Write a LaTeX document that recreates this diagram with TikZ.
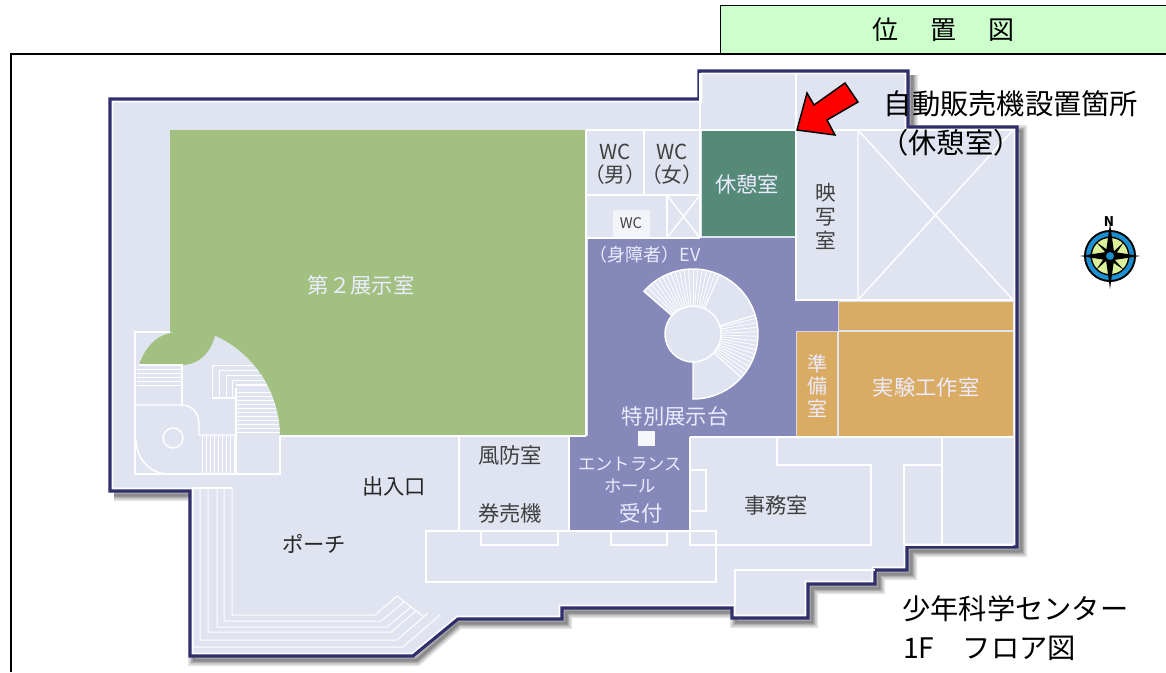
\documentclass[tikz,border=0pt]{standalone}
\usepackage{fontspec}
\setmainfont{Noto Sans CJK JP}
\definecolor{floorc}{HTML}{E0E4F1}
\definecolor{wallc}{HTML}{2F2F6E}
\definecolor{greenc}{HTML}{A2C180}
\definecolor{tealc}{HTML}{548A77}
\definecolor{purplec}{HTML}{8688B9}
\definecolor{orangec}{HTML}{DAAB63}
\definecolor{headc}{HTML}{CCFFCC}
\definecolor{ringc}{HTML}{1B8FD0}
\definecolor{dialc}{HTML}{DCF29A}
\newcommand{\outl}{(110,99) -- (699,99) -- (699,71) -- (908,71) -- (908,127) -- (1017,127) -- (1017,547) -- (907,547) -- (907,570) -- (875,570) -- (875,584) -- (808,584) -- (808,618) -- (732,618) -- (732,608) -- (562,608) -- (562,619) -- (458,619) -- (413,656) -- (190,656) -- (190,491) -- (110,491) -- cycle}
\begin{document}
\begin{tikzpicture}[x=.75pt, y=-.75pt, wl/.style = {draw=white, line width=1.1pt}, thin wl/.style = {draw=white, line width=.75pt},
  lab/.style = {font=\fontsize{16}{18}\selectfont, text=black!75, inner sep=0pt, align=center},
  labw/.style = {lab, text=white!92!blue},
  note/.style = {font=\fontsize{21.2}{25}\selectfont, text=black, inner sep=0pt}]
\useasboundingbox (0,0) rectangle (1166,672);
\fill[white] (0,0) rectangle (1166,672);
% shadow and floor
\foreach \wd/\gr in {9/10,6.75/20,4.5/32,2.25/45} {
  \draw[black!\gr, line width=\wd pt] (912,75) -- (912,131) -- (1021,131) -- (1021,551) -- (911,551) -- (911,574) -- (879,574) -- (879,588) -- (812,588) -- (812,622) -- (736,622) -- (736,612) -- (566,612) -- (566,623) -- (459,623) -- (417,660) -- (194,660) -- (194,495) -- (114,495);
}
\fill[floorc] \outl;
\begin{scope}
\clip \outl;
\draw[white, line width=5pt] \outl;
\end{scope}
\draw[wallc, line width=2.4pt, line join=miter] \outl;

% rooms
\fill[greenc] (170,130) -- (586,130) -- (586,436) -- (280,436) -- plot[domain=0:65.8, samples=30] ({170+110*cos(\x)},{436-110*sin(\x)}) .. controls (210,355) and (197,365) .. (182,365) -- (139,365) .. controls (146,345) and (158,333) .. (178,332) -- (170,332) -- cycle;
\fill[tealc] (702,131) rectangle (795,236);
\fill[purplec] (588,238) -- (796,238) -- (796,300) -- (838,300) -- (838,331) -- (796,331) -- (796,436) -- (690,436) -- (690,530) -- (570,530) -- (570,436) -- (588,436) -- cycle;
\fill[orangec] (797,332) rectangle (837,436);
\fill[orangec] (839,332) rectangle (1013,436);
\fill[orangec] (839,302) rectangle (1013,330);

% upper partitions
\draw[wl] (586,130) -- (1013,130);
\draw[wl] (700,73) -- (700,238) (796,73) -- (796,300) -- (1013,300);
\draw[wl] (586,130) -- (586,436) (644,130) -- (644,195) (586,195) -- (700,195) (586,238) -- (700,238) (667,195) -- (667,238);
\draw[wl] (667,195) -- (700,238) (700,195) -- (667,238);
\draw[wl] (858,130) -- (858,300) (858,130) -- (1013,300) (1013,130) -- (858,300);
\fill[white!60!floorc] (613,210) rectangle (650,237);

% lower partitions
\draw[wl] (280,436) -- (586,436) (690,437) -- (1013,437) (459,437) -- (459,531) (569,437) -- (569,531);
\draw[wl] (690,437) -- (690,545) -- (871,545) -- (871,465) -- (777,465) -- (777,437);
\draw[wl] (691,470) -- (706,470) -- (706,511) -- (691,511);
\draw[wl] (942,437) -- (942,545) (904,545) -- (904,465) -- (942,465) (904,545) -- (1013,545);
\draw[wl] (426,531) rectangle (716,582);
\draw[wl] (481,531) -- (481,545) -- (558,545) -- (558,531) (611,531) -- (611,545) -- (667,545) -- (667,531);
\draw[wl] (875,570) -- (735,570) -- (735,608);
\fill[white!70!floorc] (638,431) rectangle (655,446);

% left stair
\draw[wl] (170,332) -- (135,332) -- (135,474) -- (280,474) -- (280,436);
\draw[wl] (139,365) -- (182,365) -- (182,405);
\draw[wl] (135,405) -- (182,405) .. controls (192,405) and (199,413) .. (199,424) -- (199,435) -- (235,435);
\draw[wl] (136,440) .. controls (136,458) and (150,474) .. (168,474);
\draw[wl] (173,438) circle (10);
\foreach \y in {369,373,...,385} \draw[thin wl] (137,\y) -- (181,\y);
\foreach \x in {202,206,...,234} \draw[thin wl] (\x,436) -- (\x,474);
\foreach \y in {392,396,...,432} \draw[thin wl] (236,\y) -- ({170+sqrt(12100-(436-\y)^2)},\y);
\draw[wl] (236,388) -- (236,474);
\foreach \x/\y in {212/365,219/370,226/375,232/380} \draw[thin wl] (\x,398) -- (\x,\y) -- ({170+sqrt(12100-(436-\y)^2)},\y);
\draw[wl] (212,398) -- (236,398) (236,385) -- ({170+sqrt(12100-(436-385)^2)},385);

% porch stair
\draw[wl] (193,488) -- (232,488);
\foreach \x/\y/\a/\b/\c in {193/647/403/440/615, 200/640/397/428/613, 208/632/391/416/611, 217/627/387/411/607, 224/621/381/404/602, 232/615/375/397/596}
  \draw[thin wl] (\x,488) -- (\x,\y) -- (\a,\y) -- (\b,\c);
\draw[thin wl] (397,596) -- (424,617);

% spiral stair
\begin{scope}[shift={(693,334)}]
\fill[floorc] (0,0) -- plot[domain=-90:139, samples=80] ({65*cos(\x)},{-65*sin(\x)}) -- cycle;
\draw[wl] (0,0) -- plot[domain=-90:139, samples=80] ({65*cos(\x)},{-65*sin(\x)}) -- cycle;
\foreach \a in {70,74,...,136} \draw[white, line width=.6pt] ({28*cos(\a)},{-28*sin(\a)}) -- ({65*cos(\a)},{-65*sin(\a)});
\foreach \a in {-38,-34,...,14} \draw[white, line width=.6pt] ({28*cos(\a)},{-28*sin(\a)}) -- ({65*cos(\a)},{-65*sin(\a)});
\foreach \a in {66,17,-42} \draw[white, line width=.9pt] ({28*cos(\a)},{-28*sin(\a)}) -- ({65*cos(\a)},{-65*sin(\a)});
\fill[floorc, draw=white, line width=1.1pt] (0,0) circle (28);
\end{scope}

% room labels
\node[labw] (hall) at (361,285) {第２展示室};
\node[labw] (rest) at (747,184) {休憩室};
\node[lab, font=\fontsize{15.5}{17}\selectfont] (wcm) at (615,164) {WC\\（男）};
\node[lab, font=\fontsize{15.5}{17}\selectfont] (wcf) at (672,164) {WC\\（女）};
\node[lab, font=\fontsize{11}{13}\selectfont] (wcd) at (631,223) {WC};
\node[lab, font=\fontsize{15.5}{18}\selectfont] (movie) at (826,216) {映\\写\\室};
\node[labw, font=\fontsize{13.5}{16}\selectfont] (ev) at (645,255) {（身障者）EV};
\node[labw] (stage) at (675,416) {特別展示台};
\node[labw, font=\fontsize{13}{16.5}\selectfont] (entr) at (630,475) {エントランス\\ホール};
\node[labw] (recep) at (641,513) {受付};
\node[labw, font=\fontsize{15}{17}\selectfont] (prep) at (817,386) {準\\備\\室};
\node[labw] (lab1) at (926,387) {実験工作室};
\node[lab] (wind) at (510,455) {風防室};
\node[lab] (tick) at (510,513) {券売機};
\node[lab] (off) at (776,505) {事務室};
\node[lab, text=black!85] (door) at (394,486) {出入口};
\node[lab, text=black!85] (porch) at (314,544) {ポーチ};

% frame and title
\draw[black, line width=1.1pt] (11,672) -- (11,54) -- (1166,54);
\node[draw=black, line width=.8pt, fill=headc, minimum width=335pt, minimum height=36pt, anchor=north west, inner sep=0pt, font=\fontsize{19.5}{22}\selectfont] (title) at (720,5) {位\hspace{24pt}置\hspace{24pt}図};

% vending note
\draw[black, line width=1.1pt, fill=red, line join=miter] (797,130) -- (807,93) -- (814,105) -- (845,83) -- (858,102) -- (827,120) -- (835,135) -- cycle;
\node[note] (vend) at (1011,104) {自動販売機設置箇所};
\node[note] (vendb) at (951,143) {（休憩室）};
\node[note, anchor=west] (name) at (902,609) {少年科学センター};
\node[note, anchor=west] (floor) at (903,648) {1F　フロア図};

% compass
\begin{scope}[shift={(1110,256)}]
\fill[black] (0,0) circle (26);
\fill[ringc] (0,0) circle (24);
\fill[black] (0,0) circle (19.5);
\fill[dialc] (0,0) circle (18);
\fill[black] (0,-33) -- (4,-4) -- (30,0) -- (4,4) -- (0,33) -- (-4,4) -- (-30,0) -- (-4,-4) -- cycle;
\fill[black] (-14,-14) -- (2,-3) -- (14,-14) -- (3,2) -- (14,14) -- (-2,3) -- (-14,14) -- (-3,-2) -- cycle;
\fill[ringc, draw=black, line width=.6pt] (0,0) circle (4.5);
\node[font=\fontsize{10}{12}\bfseries\selectfont, inner sep=0pt] (north) at (-1,-34) {N};
\end{scope}
\end{tikzpicture}
\end{document}
